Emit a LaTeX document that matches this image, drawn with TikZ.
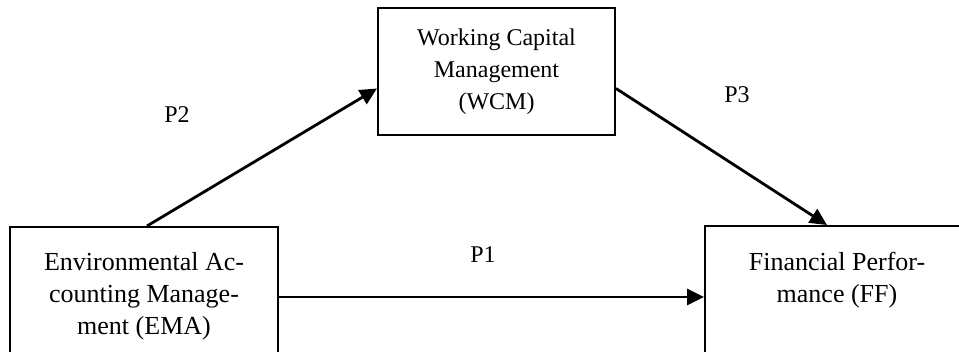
\documentclass[tikz,border=0pt]{standalone}
\usepackage{fontspec}
\setmainfont{Liberation Serif}
\usetikzlibrary{arrows.meta,calc}

\begin{document}
\begin{tikzpicture}[x=0.5pt,y=-0.5pt,
 box/.style={draw,line width=1pt,align=center,inner sep=0pt},
 txt/.style={align=center,font=\fontsize{13}{16}\selectfont},
 lbl/.style={font=\fontsize{12}{14}\selectfont},
 arr/.style={-{Triangle[length=8.5pt,width=8pt]},line width=1.4pt}]
\useasboundingbox[fill=white] (0,0) rectangle (959,352);
\node[box,txt,minimum width=134pt,minimum height=69pt] (ema) at (144,296) {Environmental Ac-\\counting Manage-\\ment (EMA)};
\node[box,minimum width=118.5pt,minimum height=63.5pt,font=\fontsize{12}{16}\selectfont] (wcm) at (496.5,71.5) {Working Capital\\Management\\(WCM)};
\node[box,minimum width=132pt,minimum height=70pt] (ffbox) at (837,296) {};
\node[txt] (ff) at (837,280) {Financial Perfor-\\mance (FF)};
\node[lbl] (p1) at (483,255) {P1};
\node[lbl] (p2) at (177,115) {P2};
\node[lbl] (p3) at (737,95) {P3};
\draw[arr] ($(ema.north)+(3,0)$)--($(wcm.west)+(0,17)$);
\draw[arr] ($(wcm.east)+(0,17)$)--($(ffbox.north)+(-10,0)$);
\draw[arr] ($(ema.east)+(0,1)$)--($(ffbox.west)+(0,1)$);
\end{tikzpicture}
\end{document}
